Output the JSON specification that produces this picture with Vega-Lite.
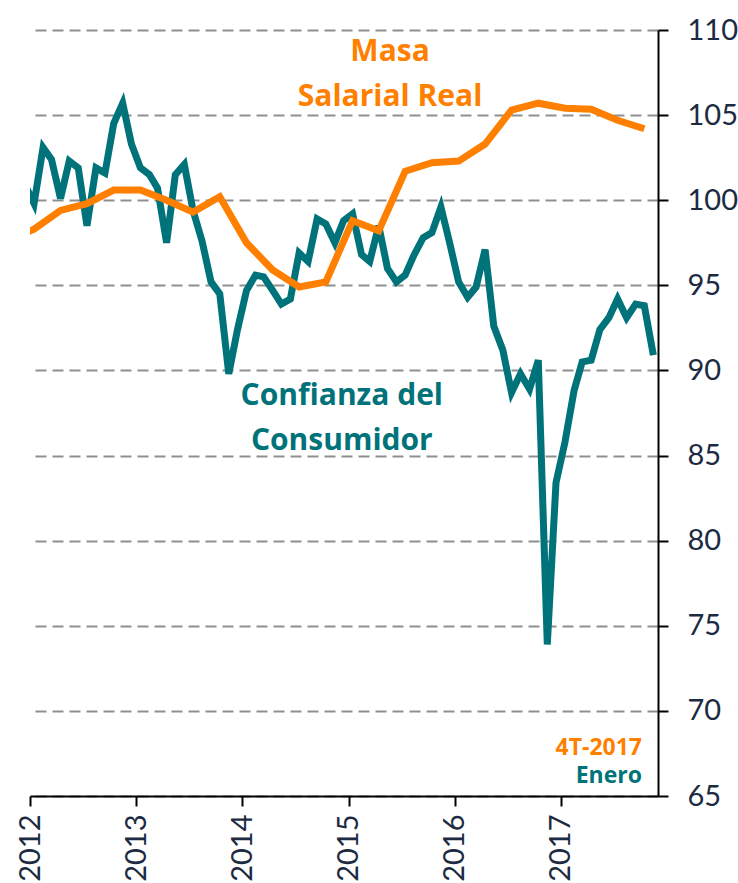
{
  "$schema": "https://vega.github.io/schema/vega-lite/v6.json",
  "width": 628,
  "height": 766,
  "autosize": {"type": "none"},
  "padding": {"left": 30, "top": 30, "right": 80, "bottom": 87},
  "background": "white",
  "config": {
    "view": {"stroke": null},
    "font": "Lato",
    "axis": {"labelFont": "Lato", "labelColor": "#1C2B42"}
  },
  "datasets": {
    "confianza": [
      {"date": "2011-12-15", "value": 100.9},
      {"date": "2012-01-15", "value": 99.8},
      {"date": "2012-02-15", "value": 103.1},
      {"date": "2012-03-15", "value": 102.4},
      {"date": "2012-04-15", "value": 100.1},
      {"date": "2012-05-15", "value": 102.3},
      {"date": "2012-06-15", "value": 101.9},
      {"date": "2012-07-15", "value": 98.5},
      {"date": "2012-08-15", "value": 101.9},
      {"date": "2012-09-15", "value": 101.6},
      {"date": "2012-10-15", "value": 104.5},
      {"date": "2012-11-15", "value": 105.7},
      {"date": "2012-12-15", "value": 103.3},
      {"date": "2013-01-15", "value": 101.9},
      {"date": "2013-02-15", "value": 101.5},
      {"date": "2013-03-15", "value": 100.7},
      {"date": "2013-04-15", "value": 97.5},
      {"date": "2013-05-15", "value": 101.5},
      {"date": "2013-06-15", "value": 102.1},
      {"date": "2013-07-15", "value": 99.4},
      {"date": "2013-08-15", "value": 97.6},
      {"date": "2013-09-15", "value": 95.2},
      {"date": "2013-10-15", "value": 94.5},
      {"date": "2013-11-15", "value": 89.8},
      {"date": "2013-12-15", "value": 92.4},
      {"date": "2014-01-15", "value": 94.7},
      {"date": "2014-02-15", "value": 95.6},
      {"date": "2014-03-15", "value": 95.5},
      {"date": "2014-04-15", "value": 94.7},
      {"date": "2014-05-15", "value": 93.9},
      {"date": "2014-06-15", "value": 94.2},
      {"date": "2014-07-15", "value": 96.9},
      {"date": "2014-08-15", "value": 96.4},
      {"date": "2014-09-15", "value": 98.9},
      {"date": "2014-10-15", "value": 98.6},
      {"date": "2014-11-15", "value": 97.5},
      {"date": "2014-12-15", "value": 98.8},
      {"date": "2015-01-15", "value": 99.2},
      {"date": "2015-02-15", "value": 96.8},
      {"date": "2015-03-15", "value": 96.4},
      {"date": "2015-04-15", "value": 98.5},
      {"date": "2015-05-15", "value": 96.0},
      {"date": "2015-06-15", "value": 95.2},
      {"date": "2015-07-15", "value": 95.6},
      {"date": "2015-08-15", "value": 96.8},
      {"date": "2015-09-15", "value": 97.8},
      {"date": "2015-10-15", "value": 98.1},
      {"date": "2015-11-15", "value": 99.6},
      {"date": "2015-12-15", "value": 97.5},
      {"date": "2016-01-15", "value": 95.2},
      {"date": "2016-02-15", "value": 94.3},
      {"date": "2016-03-15", "value": 94.9},
      {"date": "2016-04-15", "value": 97.1},
      {"date": "2016-05-15", "value": 92.6},
      {"date": "2016-06-15", "value": 91.2},
      {"date": "2016-07-15", "value": 88.7},
      {"date": "2016-08-15", "value": 89.8},
      {"date": "2016-09-15", "value": 88.9},
      {"date": "2016-10-15", "value": 90.6},
      {"date": "2016-11-15", "value": 73.9},
      {"date": "2016-12-15", "value": 83.4},
      {"date": "2017-01-15", "value": 85.8},
      {"date": "2017-02-15", "value": 88.8},
      {"date": "2017-03-15", "value": 90.5},
      {"date": "2017-04-15", "value": 90.6},
      {"date": "2017-05-15", "value": 92.4},
      {"date": "2017-06-15", "value": 93.1},
      {"date": "2017-07-15", "value": 94.2},
      {"date": "2017-08-15", "value": 93.1},
      {"date": "2017-09-15", "value": 93.9},
      {"date": "2017-10-15", "value": 93.8},
      {"date": "2017-11-15", "value": 90.9}
    ],
    "masa": [
      {"date": "2011-10-15", "value": 97.6},
      {"date": "2012-01-15", "value": 98.3},
      {"date": "2012-04-15", "value": 99.4},
      {"date": "2012-07-15", "value": 99.8},
      {"date": "2012-10-15", "value": 100.6},
      {"date": "2013-01-15", "value": 100.6},
      {"date": "2013-04-15", "value": 100.0},
      {"date": "2013-07-15", "value": 99.3},
      {"date": "2013-10-15", "value": 100.2},
      {"date": "2014-01-15", "value": 97.5},
      {"date": "2014-04-15", "value": 95.9},
      {"date": "2014-07-15", "value": 94.9},
      {"date": "2014-10-15", "value": 95.2},
      {"date": "2015-01-15", "value": 98.8},
      {"date": "2015-04-15", "value": 98.2},
      {"date": "2015-07-15", "value": 101.7},
      {"date": "2015-10-15", "value": 102.2},
      {"date": "2016-01-15", "value": 102.3},
      {"date": "2016-04-15", "value": 103.3},
      {"date": "2016-07-15", "value": 105.3},
      {"date": "2016-10-15", "value": 105.7},
      {"date": "2017-01-15", "value": 105.4},
      {"date": "2017-04-15", "value": 105.35},
      {"date": "2017-07-15", "value": 104.7},
      {"date": "2017-10-15", "value": 104.2}
    ],
    "labels": [
      {"text": "label"}
    ]
  },
  "layer": [
    {
      "data": {"name": "confianza"},
      "mark": {"type": "line", "color": "#00737A", "strokeWidth": 7, "clip": true},
      "encoding": {
        "x": {
          "field": "date",
          "type": "temporal",
          "scale": {
            "type": "utc",
            "domain": ["2012-01-01T00:00:00Z", "2017-12-01T00:00:00Z"]
          },
          "axis": {
            "title": null,
            "orient": "bottom",
            "format": "%Y",
            "tickCount": {"interval": "year", "step": 1},
            "labelAngle": -90,
            "labelFontSize": 29,
            "labelPadding": 8,
            "tickSize": 10,
            "tickColor": "#000000",
            "tickWidth": 2,
            "domainColor": "#000000",
            "domainWidth": 2,
            "grid": false,
            "labelFlush": false,
            "labelOverlap": false
          }
        },
        "y": {
          "field": "value",
          "type": "quantitative",
          "scale": {"domain": [65, 110], "nice": false, "zero": false},
          "axis": {
            "title": null,
            "orient": "right",
            "values": [65, 70, 75, 80, 85, 90, 95, 100, 105, 110],
            "labelFontSize": 29,
            "labelPadding": 19,
            "tickSize": 10,
            "tickColor": "#000000",
            "tickWidth": 2,
            "domainColor": "#000000",
            "domainWidth": 2,
            "grid": true,
            "gridColor": "#8f8f8f",
            "gridWidth": 2,
            "gridDash": [11, 6],
            "labelFlush": false
          }
        }
      }
    },
    {
      "data": {"name": "masa"},
      "mark": {"type": "line", "color": "#FF7F00", "strokeWidth": 7, "clip": true},
      "encoding": {
        "x": {"field": "date", "type": "temporal"},
        "y": {"field": "value", "type": "quantitative"}
      }
    },
    {
      "data": {"name": "labels"},
      "mark": {"type": "text", "font": "Open Sans", "fontWeight": "bold", "fontSize": 30, "fill": "#FF7F00", "align": "center", "baseline": "middle", "lineHeight": 45},
      "encoding": {
        "x": {"datum": 1432425600000, "type": "temporal"},
        "y": {"datum": 108.7, "type": "quantitative"},
        "text": {"value": ["Masa", "Salarial Real"]}
      }
    },
    {
      "data": {"name": "labels"},
      "mark": {"type": "text", "font": "Open Sans", "fontWeight": "bold", "fontSize": 30, "fill": "#00737A", "align": "center", "baseline": "middle", "lineHeight": 45},
      "encoding": {
        "x": {"datum": 1418083200000, "type": "temporal"},
        "y": {"datum": 88.5, "type": "quantitative"},
        "text": {"value": ["Confianza del", "Consumidor"]}
      }
    },
    {
      "data": {"name": "labels"},
      "mark": {"type": "text", "font": "Open Sans", "fontWeight": "bold", "fontSize": 23, "fill": "#FF7F00", "align": "right", "baseline": "middle"},
      "encoding": {
        "x": {"datum": 1507334400000, "type": "temporal"},
        "y": {"datum": 67.8, "type": "quantitative"},
        "text": {"value": "4T-2017"}
      }
    },
    {
      "data": {"name": "labels"},
      "mark": {"type": "text", "font": "Open Sans", "fontWeight": "bold", "fontSize": 23, "fill": "#00737A", "align": "right", "baseline": "middle"},
      "encoding": {
        "x": {"datum": 1507334400000, "type": "temporal"},
        "y": {"datum": 66.15, "type": "quantitative"},
        "text": {"value": "Enero"}
      }
    }
  ]
}
